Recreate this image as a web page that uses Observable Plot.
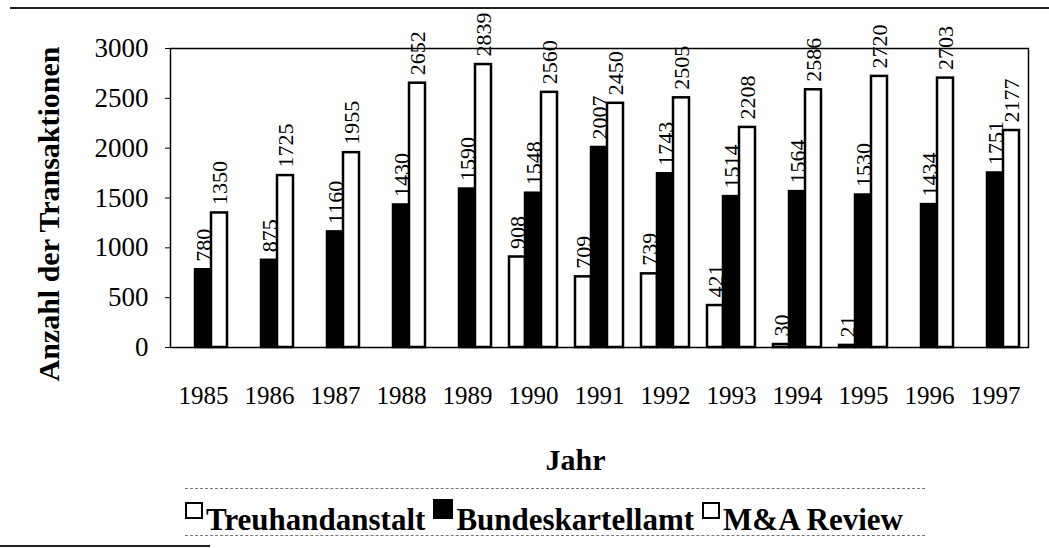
<!DOCTYPE html>
<html>
<head>
<meta charset="utf-8">
<script src="https://cdn.jsdelivr.net/npm/d3@7"></script>
<script src="https://cdn.jsdelivr.net/npm/@observablehq/plot@0.6"></script>
<style>
  html, body { margin: 0; padding: 0; background: #fff; }
  #wrap { position: relative; width: 1049px; height: 548px; overflow: hidden; font-family: "Liberation Serif", "Times New Roman", serif; }
  #topline { position: absolute; left: 10px; right: 0; top: 7px; height: 2px; background: #222; }
  #botline { position: absolute; left: 0; width: 210px; top: 545px; height: 2px; background: #222; }
  #legend { position: absolute; left: 0; top: 485px; width: 1049px; height: 63px; }
  #legend .rule { position: absolute; left: 185px; width: 740px; height: 0; border-top: 1px dashed #777; }
  #legend .row { position: absolute; left: 185px; top: 14px; white-space: nowrap; font: bold 31px "Liberation Serif", serif; line-height: 34px; color: #000; }
  #legend .sw { display: inline-block; width: 14px; height: 13px; border: 2px solid #000; background: #fff; vertical-align: 11px; margin-right: 3px; }
  #legend .sw.black { background: #000; width: 16px; height: 16px; }
  #legend .item { margin-right: 8px; }
  svg text { font-family: "Liberation Serif", serif; }
</style>
</head>
<body>
<div id="wrap">
  <div id="chart"></div>
  <div id="topline"></div>
  <div id="legend">
    <div class="rule" style="top:3px"></div>
    <div class="row" id="legrow"></div>
    <div class="rule" style="top:50px"></div>
  </div>
  <div id="botline"></div>
</div>
<script>
const years = [1985, 1986, 1987, 1988, 1989, 1990, 1991, 1992, 1993, 1994, 1995, 1996, 1997];
const treuhandanstalt = [null, null, null, null, null, 908, 709, 739, 421, 30, 21, null, null];
const bundeskartellamt = [780, 875, 1160, 1430, 1590, 1548, 2007, 1743, 1514, 1564, 1530, 1434, 1751];
const maReview = [1350, 1725, 1955, 2652, 2839, 2560, 2450, 2505, 2208, 2586, 2720, 2703, 2177];
const seriesNames = ["Treuhandanstalt", "Bundeskartellamt", "M&A Review"];
const seriesFills = ["white", "black", "white"];
const yTicks = [0, 500, 1000, 1500, 2000, 2500, 3000];
const yTitle = "Anzahl der Transaktionen";
const xTitle = "Jahr";

const seriesValues = [treuhandanstalt, bundeskartellamt, maReview];
const data = years.flatMap((year, i) =>
  seriesNames.map((s, k) => ({year, series: s, value: seriesValues[k][i]}))
).filter(d => d.value != null);

const serif = "Liberation Serif";

const chart = Plot.plot({
  width: 1049,
  height: 485,
  marginLeft: 165,
  marginRight: 17,
  marginTop: 48,
  marginBottom: 138,
  style: {fontFamily: serif, background: "white", color: "black"},
  fx: {domain: years, padding: 0},
  x: {domain: seriesNames, paddingInner: 0, paddingOuter: 0.52, axis: null},
  y: {domain: [0, 3000]},
  color: {domain: seriesNames, range: seriesFills},
  marks: [
    Plot.barY(data, {fx: "year", x: "series", y: "value", fill: "series", stroke: "black", strokeWidth: 2.5}),
    Plot.text(data, {fx: "year", x: "series", y: "value", text: d => String(d.value), rotate: -90, textAnchor: "start", dy: -8, fontSize: 22, fontFamily: serif, fill: "black"}),
    Plot.frame({facet: "super", stroke: "black", strokeWidth: 1.5}),
    Plot.axisY({ticks: yTicks, tickFormat: d => String(d), tickSize: 5, tickPadding: 17, fontSize: 27, fontFamily: serif, label: null}),
    Plot.axisFx({anchor: "bottom", tickSize: 0, tickPadding: 39, tickFormat: d => String(d), fontSize: 25, fontFamily: serif, label: null}),
    Plot.text([yTitle], {facet: "super", frameAnchor: "left", textAnchor: "middle", lineAnchor: "middle", text: d => d, rotate: -90, dx: -121, dy: 16, fontSize: 30, fontWeight: "bold", fontFamily: serif, fill: "black"}),
    Plot.text([xTitle], {facet: "super", frameAnchor: "bottom", textAnchor: "middle", lineAnchor: "middle", text: d => d, dx: -24, dy: 113, fontSize: 30, fontWeight: "bold", fontFamily: serif, fill: "black"})
  ]
});
document.getElementById("chart").appendChild(chart);

const row = document.getElementById("legrow");
seriesNames.forEach((s, k) => {
  const item = document.createElement("span");
  item.className = "item";
  const sw = document.createElement("span");
  sw.className = "sw" + (seriesFills[k] === "black" ? " black" : "");
  item.appendChild(sw);
  item.appendChild(document.createTextNode(s));
  row.appendChild(item);
});
</script>
</body>
</html>
